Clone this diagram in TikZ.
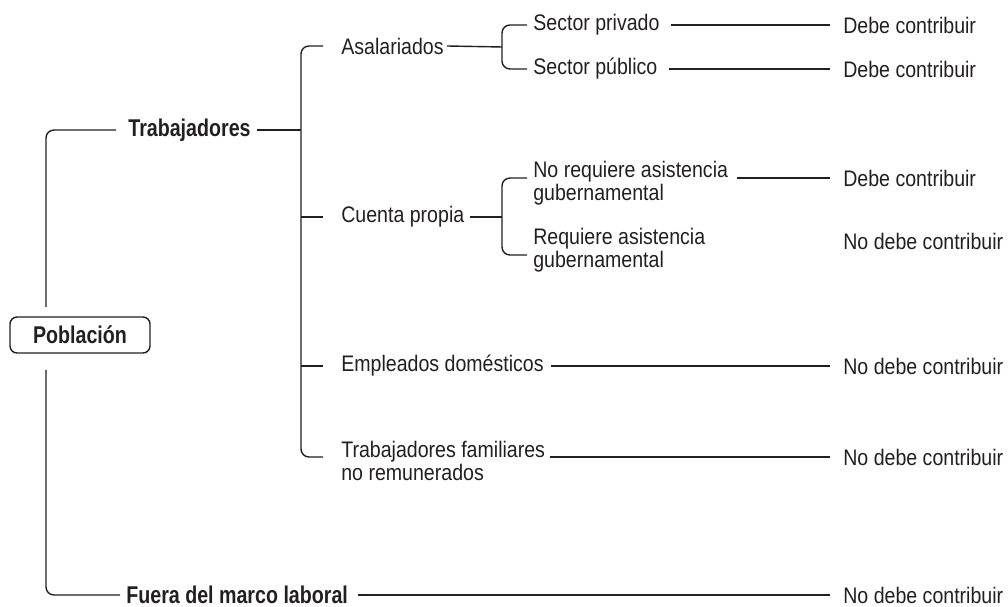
\documentclass[tikz,border=0pt]{standalone}
\usepackage{fontspec}
\setmainfont{Liberation Sans}[FakeStretch=0.87]
\newfontfamily\headfont{Liberation Sans}[FakeStretch=0.81]
\usetikzlibrary{calc}
\definecolor{ink}{HTML}{231F20}

\begin{document}
\begin{tikzpicture}[x=0.02cm,y=-0.02cm,
  font=\fontsize{12.8}{10.3}\selectfont,text=ink,
  lbl/.style={anchor=west,inner xsep=0.06cm,inner ysep=0.04cm,align=left},
  res/.style={lbl,inner xsep=0.26cm},
  hd/.style={lbl,font=\headfont\fontsize{13.8}{14}\selectfont\bfseries},
  root/.style={draw=ink,line width=0.8pt,rounded corners=0.14cm,minimum width=2.8cm,
    minimum height=0.72cm,inner sep=0pt,font=\headfont\fontsize{13.8}{14}\selectfont\bfseries},
  conn/.style={draw=ink,line width=0.8pt,rounded corners=0.16cm}]
  \useasboundingbox (0,0) rectangle (1008,607);
  % tree
  \node[root] (pob) at (80,335) {Población};
  \node[hd] (trab) at (125,130) {Trabajadores};
  \node[hd] (fuera) at (123,595) {Fuera del marco laboral};
  \node[lbl] (asal) at (338,46) {Asalariados};
  \node[lbl] (cuenta) at (338,217) {Cuenta propia};
  \node[lbl] (empl) at (338,366) {Empleados domésticos};
  \node[lbl] (famil) at (338,461) {Trabajadores familiares\\no remunerados};
  \node[lbl] (priv) at (530,25) {Sector privado};
  \node[lbl] (publ) at (530,69) {Sector público};
  \node[lbl] (noreq) at (530,183) {No requiere asistencia\\gubernamental};
  \node[lbl] (req) at (530,250) {Requiere asistencia\\gubernamental};
  % results
  \node[res] (r1) at (830,25) {Debe contribuir};
  \node[res] (r2) at (830,69) {Debe contribuir};
  \node[res] (r3) at (830,178) {Debe contribuir};
  \node[res] (r4) at (830,241) {No debe contribuir};
  \node[res] (r5) at (830,366) {No debe contribuir};
  \node[res] (r6) at (830,457) {No debe contribuir};
  \node[res] (r7) at (830,595) {No debe contribuir};
  % brackets
  \coordinate (t1) at (46,307);
  \coordinate (t2) at (46,370);
  \coordinate (v2) at (301,250);
  \coordinate (v3a) at (502,47);
  \coordinate (v3b) at (502,217);
  \draw[conn] (t1) |- ($(trab.west)+(-9,0)$);
  \draw[conn] (t2) |- ($(fuera.west)+(-3,0)$);
  \draw[conn] ($(trab.east)+(3,0)$) -- (trab.east -| v2);
  \draw[conn] ($(asal.west)+(-15,0)$) -| (v2) |- ($(famil.west)+(-15,-4)$);
  \draw[conn] ($(cuenta.west)+(-15,0)$) -- (cuenta.west -| v2);
  \draw[conn] ($(empl.west)+(-15,0)$) -- (empl.west -| v2);
  \draw[conn] (asal.east) -- (v3a);
  \draw[conn] ($(priv.west)+(-3,0)$) -| (v3a) |- ($(publ.west)+(-3,0)$);
  \draw[conn] ($(cuenta.east)+(2,0)$) -- (v3b);
  \draw[conn] ($(noreq.west)+(-3,-5)$) -| (v3b) |- ($(req.west)+(-3,5)$);
  % to results
  \draw[conn] ($(priv.east)+(8,0)$) -- (r1.west);
  \draw[conn] ($(publ.east)+(8,0)$) -- (r2.west);
  \draw[conn] ($(noreq.east)+(6,-5)$) -- (r3.west);
  \draw[conn] ($(empl.east)+(4,0)$) -- (r5.west);
  \draw[conn] ($(famil.east)+(2,-4)$) -- (r6.west);
  \draw[conn] ($(fuera.east)+(7,0)$) -- (r7.west);
\end{tikzpicture}
\end{document}
